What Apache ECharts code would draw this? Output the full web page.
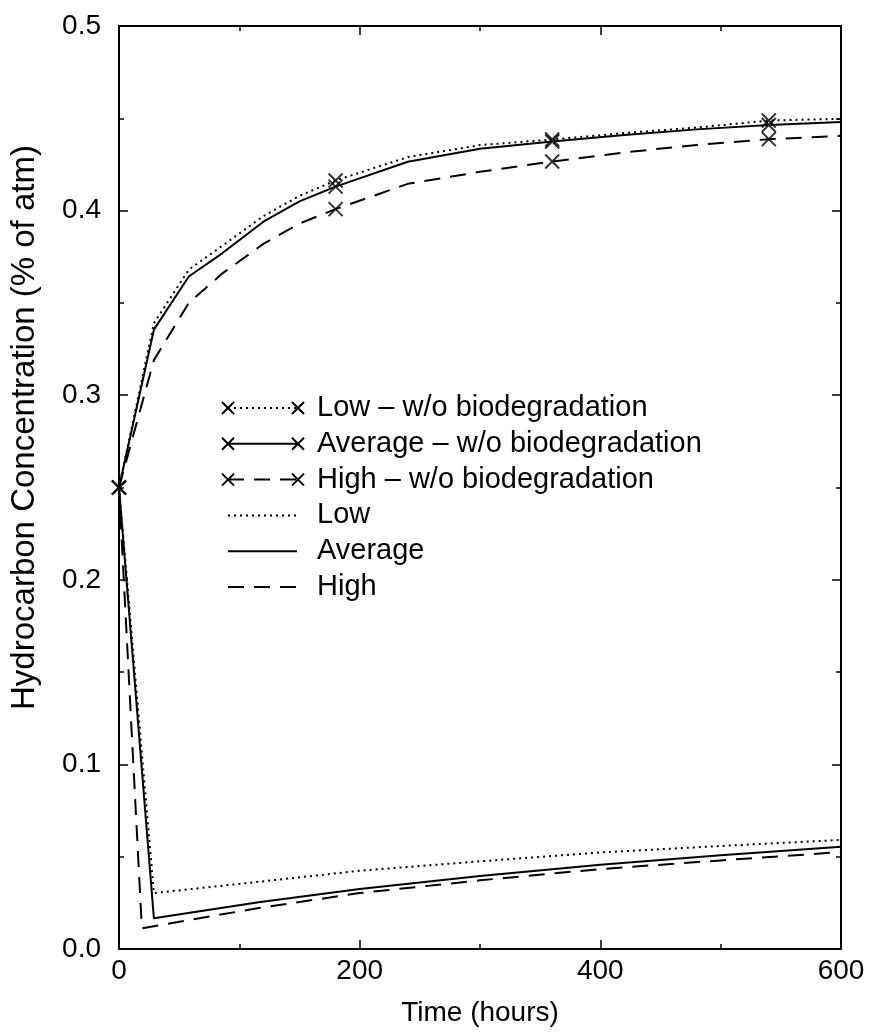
<!DOCTYPE html>
<html>
<head>
<meta charset="utf-8">
<title>Hydrocarbon Concentration</title>
<script src="https://cdn.jsdelivr.net/npm/echarts@6/dist/echarts.min.js"></script>
<style>
  html, body { margin: 0; padding: 0; background: #fff; }
  #chart { width: 871px; height: 1032px; }
</style>
</head>
<body>
<div id="chart"></div>
<script>
// upper curves: without biodegradation
const hoursWo = [0, 29, 58, 86, 120, 150, 180, 240, 300, 360, 420, 480, 540, 600];
const lowWo  = [0.25, 0.339, 0.368, 0.381, 0.397, 0.408, 0.4163, 0.429, 0.4355, 0.4385, 0.442, 0.445, 0.4488, 0.4497];
const avgWo  = [0.25, 0.3355, 0.3643, 0.377, 0.394, 0.405, 0.413, 0.4265, 0.4335, 0.4374, 0.441, 0.444, 0.4464, 0.448];
const highWo = [0.25, 0.319, 0.350, 0.366, 0.382, 0.393, 0.4008, 0.4145, 0.421, 0.4266, 0.4315, 0.4356, 0.4387, 0.4405];
const markerHours = [0, 180, 360, 540];

// lower curves: with biodegradation
const hoursBio     = [0, 29, 116, 200, 300, 400, 500, 600];
const hoursBioHigh = [0, 19, 116, 200, 300, 400, 500, 600];
const lowBio  = [0.25, 0.0303, 0.0364, 0.0424, 0.0475, 0.0523, 0.0558, 0.0591];
const avgBio  = [0.25, 0.0166, 0.0253, 0.0325, 0.0395, 0.0456, 0.0508, 0.0554];
const highBio = [0.25, 0.0112, 0.0222, 0.0303, 0.0372, 0.0433, 0.0480, 0.0525];

const legendNames = ['Low \u2013 w/o biodegradation', 'Average \u2013 w/o biodegradation', 'High \u2013 w/o biodegradation', 'Low', 'Average', 'High'];

const FONT = '"Liberation Sans", Arial, Helvetica, sans-serif';
const X_PATH = 'path://M0,0L10,10M10,0L0,10';
const DOT = [2, 4];
const DASH = [16, 10];

const zip = (xs, ys) => xs.map((x, i) => [x, ys[i]]);
const marks = (ys) => zip(hoursWo, ys).filter(p => markerHours.includes(p[0]));

const lineSeries = (name, xs, ys, type) => ({
  name: name,
  type: 'line',
  data: zip(xs, ys),
  showSymbol: false,
  symbol: 'none',
  animation: false,
  lineStyle: { color: '#000', width: 2, type: type, cap: 'butt' }
});
const markSeries = (name, ys) => ({
  name: name,
  type: 'scatter',
  data: marks(ys),
  symbol: X_PATH,
  symbolSize: 14,
  clip: false,
  animation: false,
  itemStyle: { color: 'transparent', borderColor: '#000', borderWidth: 2 }
});

// legend drawn by hand: x ... x samples like the original plot
const legendStyles = [DOT, 'solid', DASH, DOT, 'solid', DASH];
const legendItems = [];
legendNames.forEach((name, i) => {
  const y = 408 + i * 35.8;
  const dash = legendStyles[i] === 'solid' ? null : legendStyles[i];
  legendItems.push({
    type: 'line', shape: { x1: 228, y1: y, x2: 297, y2: y },
    style: { stroke: '#000', lineWidth: 2, lineDash: dash }
  });
  if (i < 3) {
    [228, 298].forEach(cx => {
      legendItems.push({ type: 'line', shape: { x1: cx - 6, y1: y - 6, x2: cx + 6, y2: y + 6 }, style: { stroke: '#000', lineWidth: 2 } });
      legendItems.push({ type: 'line', shape: { x1: cx - 6, y1: y + 6, x2: cx + 6, y2: y - 6 }, style: { stroke: '#000', lineWidth: 2 } });
    });
  }
  legendItems.push({
    type: 'text', x: 317, y: y,
    style: { text: name, fill: '#000', font: '29px ' + FONT, textVerticalAlign: 'middle', verticalAlign: 'middle' }
  });
});

const axisCommon = {
  type: 'value',
  axisLine: { show: true, onZero: false, lineStyle: { color: '#000', width: 2 } },
  axisTick: { show: true, inside: true, length: 9, lineStyle: { color: '#000', width: 1.5 } },
  minorTick: { show: true, splitNumber: 2, length: 5, lineStyle: { color: '#000', width: 1.5 } },
  splitLine: { show: false },
  minorSplitLine: { show: false }
};

const chart = echarts.init(document.getElementById('chart'), null, { renderer: 'canvas' });
chart.setOption({
  backgroundColor: '#fff',
  animation: false,
  textStyle: { fontFamily: FONT },
  grid: { left: 119, right: 30, top: 26, bottom: 82 },
  xAxis: [
    Object.assign({}, axisCommon, {
      position: 'bottom', min: 0, max: 600, interval: 200,
      axisLabel: { fontSize: 28, color: '#000', margin: 8, fontFamily: FONT },
      name: 'Time (hours)', nameLocation: 'middle', nameGap: 50,
      nameTextStyle: { fontSize: 28, color: '#000', fontFamily: FONT }
    }),
    Object.assign({}, axisCommon, {
      position: 'top', min: 0, max: 600, interval: 200,
      axisLabel: { show: false }
    })
  ],
  yAxis: [
    Object.assign({}, axisCommon, {
      position: 'left', min: 0, max: 0.5, interval: 0.1,
      axisLabel: { fontSize: 28, color: '#000', margin: 18, fontFamily: FONT, formatter: v => v.toFixed(1) },
      name: 'Hydrocarbon Concentration (% of atm)', nameLocation: 'middle', nameGap: 78,
      nameTextStyle: { fontSize: 33, color: '#000', fontFamily: FONT, padding: [0, 0, 0, 120] }
    }),
    Object.assign({}, axisCommon, {
      position: 'right', min: 0, max: 0.5, interval: 0.1,
      axisLabel: { show: false }
    })
  ],
  graphic: legendItems,
  series: [
    lineSeries('Low \u2013 w/o biodegradation', hoursWo, lowWo, DOT),
    lineSeries('Average \u2013 w/o biodegradation', hoursWo, avgWo, 'solid'),
    lineSeries('High \u2013 w/o biodegradation', hoursWo, highWo, DASH),
    markSeries('Low \u2013 w/o biodegradation', lowWo),
    markSeries('Average \u2013 w/o biodegradation', avgWo),
    markSeries('High \u2013 w/o biodegradation', highWo),
    lineSeries('Low', hoursBio, lowBio, DOT),
    lineSeries('Average', hoursBio, avgBio, 'solid'),
    lineSeries('High', hoursBioHigh, highBio, DASH)
  ]
});
</script>
</body>
</html>
